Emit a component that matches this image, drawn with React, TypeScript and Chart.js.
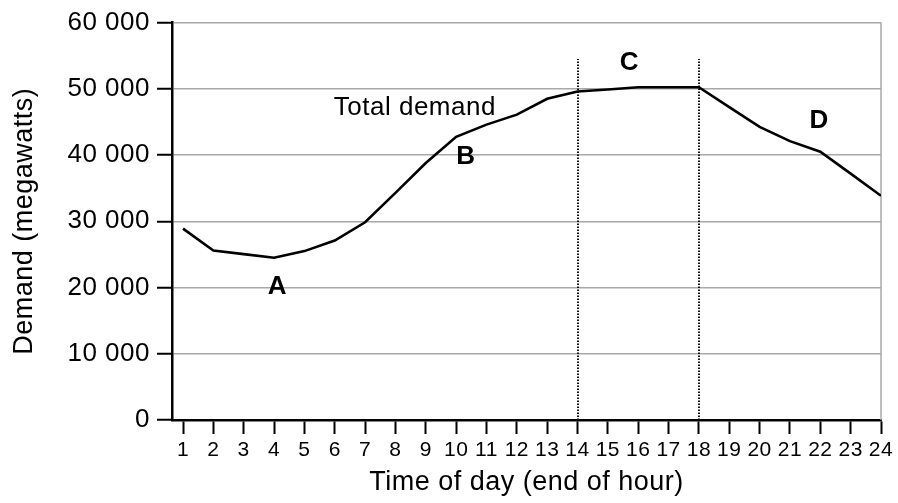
import { useEffect, useRef } from 'react';
import { Chart, registerables } from 'chart.js';

Chart.register(...registerables);

const hours = [1, 2, 3, 4, 5, 6, 7, 8, 9, 10, 11, 12, 13, 14, 15, 16, 17, 18, 19, 20, 21, 22, 23, 24];
const demand = [28900, 25600, 25050, 24500, 25500, 27100, 29850, 34300, 38800, 42750, 44600, 46100, 48500, 49600, 49900, 50250, 50250, 50250, 47250, 44250, 42100, 40500, 37200, 33850];
const yTicks = [0, 10000, 20000, 30000, 40000, 50000, 60000];
const dividerHours = [14, 18];
const dividerTop = 54500;
const regionLabels = ['A', 'B', 'C', 'D'];
const regionX = [4.11, 10.32, 15.71, 21.96];
const regionY = [19050, 38700, 52800, 44100];
const seriesLabel = 'Total demand';
const seriesLabelX = 8.64;
const seriesLabelY = 46000;
const xTitle = 'Time of day (end of hour)';
const yTitle = 'Demand (megawatts)';

const FONT = "'Liberation Sans', Arial, Helvetica, sans-serif";
const SPACING = '0.5px';

const fmt = (v: number) => String(v).replace(/\B(?=(\d{3})+(?!\d))/g, ' ');

const overlay = {
  id: 'overlay',
  beforeDraw(chart: any) {
    chart.ctx.letterSpacing = SPACING;
  },
  beforeDatasetsDraw(chart: any) {
    const { ctx, chartArea, scales } = chart;
    const x = scales.x;
    const y = scales.y;
    ctx.save();
    ctx.strokeStyle = '#a8a8a8';
    ctx.lineWidth = 1.5;
    ctx.beginPath();
    ctx.moveTo(chartArea.right, chartArea.top);
    ctx.lineTo(chartArea.right, chartArea.bottom);
    ctx.stroke();
    ctx.strokeStyle = '#111';
    ctx.lineWidth = 2;
    ctx.setLineDash([1.5, 1.5]);
    dividerHours.forEach((h) => {
      const px = Math.round(x.getPixelForValue(h));
      ctx.beginPath();
      ctx.moveTo(px, y.getPixelForValue(0));
      ctx.lineTo(px, y.getPixelForValue(dividerTop));
      ctx.stroke();
    });
    ctx.restore();
  },
  afterDatasetsDraw(chart: any) {
    const { ctx, scales } = chart;
    const x = scales.x;
    const y = scales.y;
    ctx.save();
    ctx.letterSpacing = SPACING;
    ctx.fillStyle = '#000';
    ctx.textBaseline = 'alphabetic';
    ctx.textAlign = 'center';
    ctx.font = `bold 26px ${FONT}`;
    regionLabels.forEach((t, i) => {
      ctx.fillText(t, x.getPixelForValue(regionX[i]), y.getPixelForValue(regionY[i]));
    });
    ctx.font = `26px ${FONT}`;
    ctx.fillText(seriesLabel, x.getPixelForValue(seriesLabelX), y.getPixelForValue(seriesLabelY));
    ctx.restore();
  },
};

export default function App() {
  const ref = useRef<HTMLCanvasElement | null>(null);
  useEffect(() => {
    if (!ref.current) return;
    const chart = new Chart(ref.current, {
      type: 'line',
      data: {
        datasets: [
          {
            label: seriesLabel,
            data: hours.map((h, i) => ({ x: h, y: demand[i] })),
            borderColor: '#000',
            borderWidth: 2.6,
            pointRadius: 0,
            tension: 0,
            fill: false,
          },
        ],
      },
      options: {
        animation: false,
        responsive: true,
        maintainAspectRatio: false,
        layout: { padding: { top: 20, right: 17, left: 0, bottom: 0 } },
        plugins: { legend: { display: false }, tooltip: { enabled: false } },
        scales: {
          x: {
            type: 'linear',
            min: 1 - 11 / 30.33,
            max: 24,
            afterBuildTicks: (scale: any) => {
              scale.ticks = hours.map((h) => ({ value: h }));
            },
            afterFit: (scale: any) => {
              scale.height = 83;
            },
            ticks: {
              autoSkip: false,
              maxRotation: 0,
              minRotation: 0,
              padding: 4,
              color: '#000',
              font: { family: FONT, size: 21 },
              callback: (v: any) => String(v),
            },
            grid: {
              drawOnChartArea: false,
              drawTicks: true,
              tickLength: 14,
              tickColor: '#000',
              tickWidth: 2,
            },
            border: { display: true, color: '#000', width: 2.5 },
            title: {
              display: true,
              text: xTitle,
              color: '#000',
              font: { family: FONT, size: 27 },
              padding: { top: 0, bottom: 4 },
            },
          },
          y: {
            type: 'linear',
            min: 0,
            max: 60000,
            afterBuildTicks: (scale: any) => {
              scale.ticks = yTicks.map((v) => ({ value: v }));
            },
            afterFit: (scale: any) => {
              scale.width = 172;
            },
            ticks: {
              padding: 7,
              color: '#000',
              font: { family: FONT, size: 26 },
              callback: (v: any) => fmt(Number(v)),
            },
            grid: {
              color: '#a8a8a8',
              lineWidth: 1.5,
              tickLength: 15,
              tickColor: '#000',
              tickWidth: 2,
            },
            border: { display: true, color: '#000', width: 2.5 },
            title: {
              display: true,
              text: yTitle,
              color: '#000',
              font: { family: FONT, size: 27 },
              padding: { top: 8, bottom: 0 },
            },
          },
        },
      },
      plugins: [overlay],
    } as any);
    return () => chart.destroy();
  }, []);
  return (
    <div style={{ position: 'fixed', left: 0, top: 0, width: 898, height: 503, background: '#fff' }}>
      <canvas ref={ref} />
    </div>
  );
}
